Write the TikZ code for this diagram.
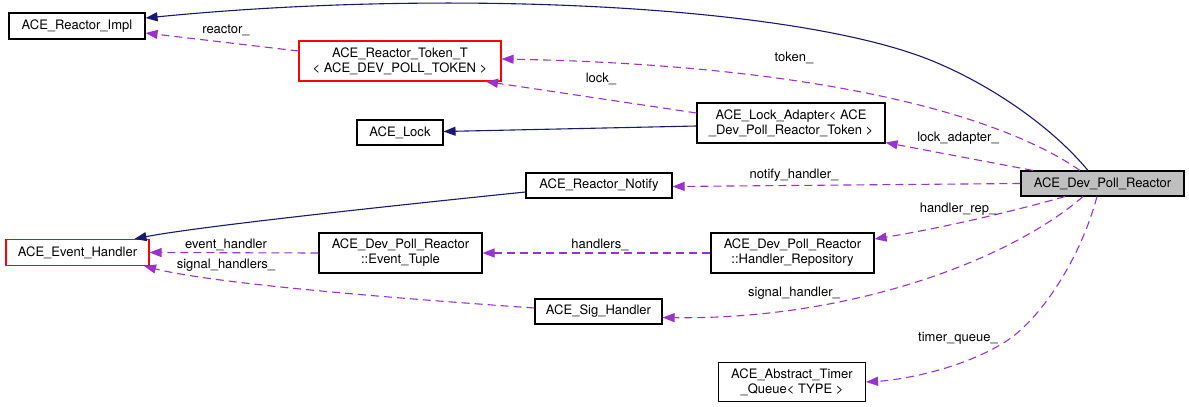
\documentclass[tikz,border=0pt]{standalone}
\usepackage{fontspec}
\setmainfont{TeX Gyre Heros}
\usepackage{tikz}
\usetikzlibrary{arrows.meta}
\definecolor{inhblue}{HTML}{191970}
\definecolor{usepurple}{HTML}{9A32CD}
\definecolor{curgray}{HTML}{BFBFBF}

\begin{document}
\begin{tikzpicture}[x=1pt,y=-1pt,
    every node/.style={font=\fontsize{13}{15}\selectfont},
    cls/.style={draw,inner sep=0pt,align=center,line width=1.1pt},
    inh/.style={inhblue,line width=1.1pt,-{Triangle[length=12pt,width=9pt]}},
    usage/.style={usepurple,line width=1.1pt,dash pattern=on 8pt off 5pt,-{Triangle[length=12pt,width=9pt]}},
    lbl/.style={inner sep=0pt}]
    \useasboundingbox (0,0) rectangle (1189,407);
    \node [cls,minimum width=136pt,minimum height=26pt] (impl) at (77,26) {ACE\_Reactor\_Impl};
    \node [cls,draw=red,minimum width=202pt,minimum height=40pt] (token) at (400,61) {ACE\_Reactor\_Token\_T\\< ACE\_DEV\_POLL\_TOKEN >};
    \node [cls,minimum width=86pt,minimum height=25pt] (lock) at (400,132.5) {ACE\_Lock};
    \node [cls,minimum width=188pt,minimum height=40pt] (adapter) at (791,123) {ACE\_Lock\_Adapter< ACE\\\_Dev\_Poll\_Reactor\_Token >};
    \node [cls,minimum width=146pt,minimum height=25pt] (notify) at (599,185.5) {ACE\_Reactor\_Notify};
    \node [cls,fill=curgray,minimum width=163pt,minimum height=25pt] (dpr) at (1102.5,183.5) {ACE\_Dev\_Poll\_Reactor};
    \node [cls,draw=red,minimum width=143pt,minimum height=26pt] (evh) at (77.5,252.5) {ACE\_Event\_Handler};
    \node [cls,minimum width=163pt,minimum height=40pt] (tuple) at (400.5,253) {ACE\_Dev\_Poll\_Reactor\\::Event\_Tuple};
    \node [cls,minimum width=163pt,minimum height=40pt] (repo) at (792.5,253) {ACE\_Dev\_Poll\_Reactor\\::Handler\_Repository};
    \node [cls,minimum width=127pt,minimum height=25pt] (sig) at (598.5,311.5) {ACE\_Sig\_Handler};
    \node [cls,minimum width=147pt,minimum height=39pt] (timer) at (792,382) {ACE\_Abstract\_Timer\\\_Queue< TYPE >};

    \draw [inh] ([xshift=-14.5pt]dpr.north) .. controls (1050,125) and (990,85) .. (935,62)
        .. controls (800,5) and (450,-12) .. ([yshift=8pt]impl.east);
    \draw [inh] ([yshift=-3pt]adapter.west) -- ([yshift=1pt]lock.east);
    \draw [inh] ([yshift=-6.5pt]notify.west) .. controls (350,210) and (190,228) .. ([xshift=57pt]evh.north);

    \draw [usage] ([yshift=10pt]token.west) -- ([yshift=-7pt]impl.east);
    \draw [usage] ([xshift=-22.5pt]dpr.north) .. controls (1000,115) and (820,65) .. ([yshift=2pt]token.east);
    \draw [usage] ([yshift=10pt]adapter.west) -- ([xshift=86pt]token.south);
    \draw [usage] ([xshift=-69.5pt]dpr.north) -- ([yshift=1pt]adapter.south east);
    \draw [usage] (dpr.west) -- ([yshift=-1pt]notify.east);
    \draw [usage] (tuple.west) -- (evh.east);
    \draw [usage] (repo.west) -- (tuple.east);
    \draw [usage] ([xshift=-37.5pt]dpr.south) .. controls (1000,215) and (930,230) .. ([yshift=14pt]repo.east);
    \draw [usage] ([yshift=3.5pt]sig.west) .. controls (420,300) and (220,285) .. ([xshift=66.5pt]evh.south);
    \draw [usage] ([xshift=-19.5pt]dpr.south) .. controls (1010,260) and (850,320) .. ([yshift=-6pt]sig.east);
    \draw [usage] ([xshift=-5.5pt]dpr.south) .. controls (1080,260) and (1040,320) .. (1005,342)
        .. controls (960,370) and (900,380) .. (timer.east);

    \node [lbl] (lreactor) at (226,30) {reactor\_};
    \node [lbl] (ltoken) at (794,58) {token\_};
    \node [lbl] (llock) at (601,79) {lock\_};
    \node [lbl] (ladapter) at (958,138) {lock\_adapter\_};
    \node [lbl] (lnotify) at (794,175) {notify\_handler\_};
    \node [lbl] (lrep) at (958,209) {handler\_rep\_};
    \node [lbl] (levh) at (226,245) {event\_handler};
    \node [lbl] (lhandlers) at (600,245) {handlers\_};
    \node [lbl] (lsigs) at (226,265) {signal\_handlers\_};
    \node [lbl] (lsig) at (794,293) {signal\_handler\_};
    \node [lbl] (ltimer) at (958,338) {timer\_queue\_};
\end{tikzpicture}
\end{document}
